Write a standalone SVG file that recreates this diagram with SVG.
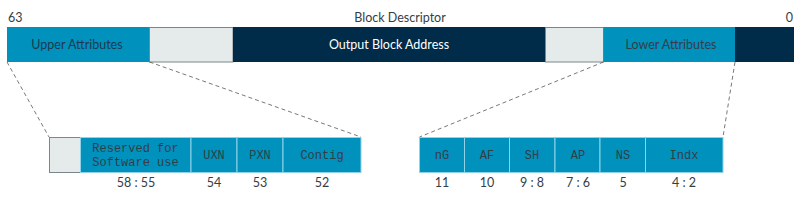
<svg xmlns="http://www.w3.org/2000/svg" width="811" height="205" viewBox="0 0 811 205">
<style>
.lbl{font-family:Lato,"Open Sans","Liberation Sans",sans-serif;font-size:12.5px;fill:#333e48}
.bar{font-family:Lato,"Open Sans","Liberation Sans",sans-serif;font-size:12.5px}
.mono{font-family:"Liberation Mono","DejaVu Sans Mono",monospace;font-size:12px;fill:#333e48}
.blue{fill:#0091bd}
.navy{fill:#002b49}
.gray{fill:#e5ebea;stroke:#7d868c;stroke-width:1}
.cell{fill:#0091bd;stroke:#8fd3ea;stroke-width:1}
.dash{stroke:#555;stroke-width:0.8;stroke-dasharray:4 3;fill:none}
</style>
<rect width="811" height="205" fill="#ffffff"/>
<g id="header">
<text class="lbl" x="8" y="22">63</text>
<text class="lbl" x="400" y="22" text-anchor="middle">Block Descriptor</text>
<text class="lbl" x="793" y="22" text-anchor="end">0</text>
</g>
<g id="upper-attributes">
<rect class="blue" x="7" y="27" width="142.5" height="35"/>
<text class="bar" x="77" y="49" text-anchor="middle" fill="#1d3a52">Upper Attributes</text>
</g>
<g id="gap-high">
<rect class="gray" x="149.5" y="27.5" width="83.5" height="34.5"/>
</g>
<g id="output-block-address">
<rect class="navy" x="233" y="27" width="312" height="35"/>
<text class="bar" x="389" y="49" text-anchor="middle" fill="#ffffff">Output Block Address</text>
</g>
<g id="gap-low">
<rect class="gray" x="545.5" y="27.5" width="58" height="34.5"/>
</g>
<g id="lower-attributes">
<rect class="blue" x="603.5" y="27" width="131.5" height="35"/>
<text class="bar" x="671" y="49" text-anchor="middle" fill="#333e48">Lower Attributes</text>
</g>
<g id="low-bits">
<rect class="navy" x="735" y="27" width="59" height="35"/>
</g>
<g id="connectors">
<line class="dash" x1="7" y1="62" x2="49" y2="137"/>
<line class="dash" x1="149.5" y1="62" x2="361" y2="137"/>
<line class="dash" x1="603.5" y1="62" x2="419.5" y2="137"/>
<line class="dash" x1="735" y1="62" x2="723" y2="137"/>
</g>
<g id="upper-fields">
<rect class="gray" x="49.5" y="137.5" width="31" height="35"/>
<rect class="cell" x="80.5" y="137.5" width="110.5" height="35"/>
<text class="mono" x="135.5" y="151.5" text-anchor="middle">Reserved for</text>
<text class="mono" x="135.5" y="166" text-anchor="middle">Software use</text>
<rect class="cell" x="191" y="137.5" width="46" height="35"/>
<text class="mono" x="214" y="159" text-anchor="middle">UXN</text>
<rect class="cell" x="237" y="137.5" width="46" height="35"/>
<text class="mono" x="260" y="159" text-anchor="middle">PXN</text>
<rect class="cell" x="283" y="137.5" width="78" height="35"/>
<text class="mono" x="322" y="159" text-anchor="middle">Contig</text>
<text class="lbl" x="136" y="186.5" text-anchor="middle">58 : 55</text>
<text class="lbl" x="214" y="186.5" text-anchor="middle">54</text>
<text class="lbl" x="260" y="186.5" text-anchor="middle">53</text>
<text class="lbl" x="322" y="186.5" text-anchor="middle">52</text>
</g>
<g id="lower-fields">
<rect class="cell" x="419.5" y="137.5" width="45" height="35"/>
<text class="mono" x="442" y="159" text-anchor="middle">nG</text>
<rect class="cell" x="464.5" y="137.5" width="45" height="35"/>
<text class="mono" x="487" y="159" text-anchor="middle">AF</text>
<rect class="cell" x="509.5" y="137.5" width="45.5" height="35"/>
<text class="mono" x="532" y="159" text-anchor="middle">SH</text>
<rect class="cell" x="555" y="137.5" width="45" height="35"/>
<text class="mono" x="578" y="159" text-anchor="middle">AP</text>
<rect class="cell" x="600" y="137.5" width="45.5" height="35"/>
<text class="mono" x="623" y="159" text-anchor="middle">NS</text>
<rect class="cell" x="645.5" y="137.5" width="77.5" height="35"/>
<text class="mono" x="684" y="159" text-anchor="middle">Indx</text>
<text class="lbl" x="442" y="186.5" text-anchor="middle">11</text>
<text class="lbl" x="487" y="186.5" text-anchor="middle">10</text>
<text class="lbl" x="532" y="186.5" text-anchor="middle">9 : 8</text>
<text class="lbl" x="578" y="186.5" text-anchor="middle">7 : 6</text>
<text class="lbl" x="623" y="186.5" text-anchor="middle">5</text>
<text class="lbl" x="684" y="186.5" text-anchor="middle">4 : 2</text>
</g>
</svg>
